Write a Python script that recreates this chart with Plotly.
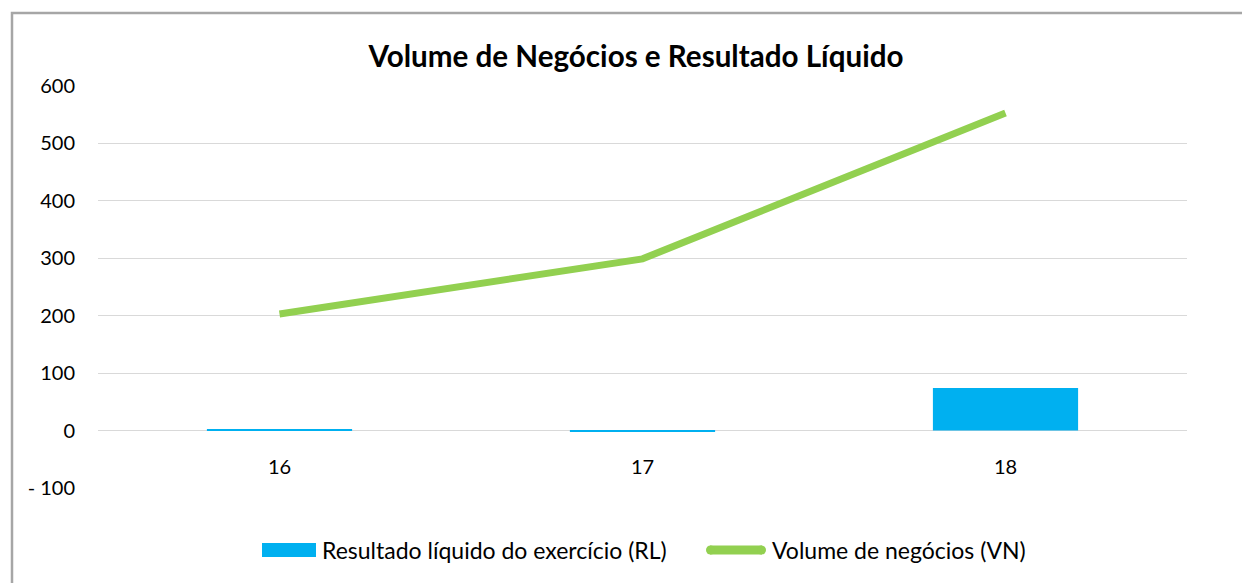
import plotly.graph_objects as go

categories = ["16", "17", "18"]
rl_values = [2, -2, 74]          # Resultado líquido do exercício (RL)
vn_values = [203, 299, 553]      # Volume de negócios (VN)
rl_name = "Resultado líquido do exercício (RL)"
vn_name = "Volume de negócios (VN)"
tick_vals = [-100, 0, 100, 200, 300, 400, 500, 600]
tick_text = ["- 100", "0", "100", "200", "300", "400", "500", "600"]

FONT = "Lato"
BLUE = "#00B0F0"
GREEN = "#92D050"

W, H = 1242, 575
L, R, T, B = 90, 63, 78, 95
PW, PH = W - L - R, H - T - B


def px(fx):
    return (fx - L) / PW


def py(fy):
    return (H - B - fy) / PH


fig = go.Figure()
fig.add_trace(go.Bar(
    x=categories, y=rl_values, name=rl_name,
    marker=dict(color=BLUE, line=dict(width=0)), width=0.4, showlegend=False,
))
fig.add_trace(go.Scatter(
    x=categories, y=vn_values, name=vn_name,
    mode="lines", line=dict(color=GREEN, width=7), showlegend=False,
))

# category labels placed at the zero line (Excel style)
for i, c in enumerate(categories):
    fig.add_annotation(x=i, y=0, xref="x", yref="y", text=c, showarrow=False,
                       yshift=-35, font=dict(family=FONT, size=20, color="#000"))

# outer chart border
fig.add_shape(type="rect", xref="paper", yref="paper",
              x0=px(4), x1=1.2, y0=-0.5, y1=py(5),
              line=dict(color="#A6A6A6", width=2.5), fillcolor="rgba(0,0,0,0)", layer="below")

# custom legend
leg_y = py(542)
fig.add_shape(type="rect", xref="paper", yref="paper",
              x0=px(254), x1=px(308), y0=py(535), y1=py(549),
              line=dict(width=0), fillcolor=BLUE)
fig.add_annotation(x=px(312), y=leg_y, xref="paper", yref="paper", text=rl_name,
                   showarrow=False, xanchor="left", yanchor="middle",
                   font=dict(family=FONT, size=23, color="#000"))
fig.add_shape(type="line", xref="paper", yref="paper",
              x0=px(702), x1=px(754), y0=leg_y, y1=leg_y,
              line=dict(color=GREEN, width=9))
fig.add_shape(type="circle", xref="paper", yref="paper",
              x0=px(698), x1=px(707), y0=py(537.5), y1=py(546.5),
              line=dict(width=0), fillcolor=GREEN)
fig.add_shape(type="circle", xref="paper", yref="paper",
              x0=px(749), x1=px(758), y0=py(537.5), y1=py(546.5),
              line=dict(width=0), fillcolor=GREEN)
fig.add_annotation(x=px(762), y=leg_y, xref="paper", yref="paper", text=vn_name,
                   showarrow=False, xanchor="left", yanchor="middle",
                   font=dict(family=FONT, size=23, color="#000"))

fig.update_layout(
    width=W, height=H,
    margin=dict(l=L, r=R, t=T, b=B),
    paper_bgcolor="white", plot_bgcolor="white",
    title=dict(text="<b>Volume de Negócios e Resultado Líquido</b>", x=px(628), xref="paper",
               xanchor="center", y=1 - 49 / H, yanchor="middle",
               font=dict(family=FONT, size=29.6, color="#000")),
    font=dict(family=FONT, size=20, color="#000"),
    showlegend=False,
    bargap=0.6,
)
fig.update_xaxes(showticklabels=False, showgrid=False, zeroline=False, showline=False,
                 range=[-0.5, 2.5])
fig.update_yaxes(range=[-100, 600], tickvals=tick_vals, ticktext=tick_text,
                 showgrid=True, gridcolor="#D9D9D9", gridwidth=1,
                 zeroline=True, zerolinecolor="#D9D9D9", zerolinewidth=1,
                 showline=False, ticks="", ticklabelstandoff=22,
                 tickfont=dict(family=FONT, size=20, color="#000"))

fig.write_html("out.html")
